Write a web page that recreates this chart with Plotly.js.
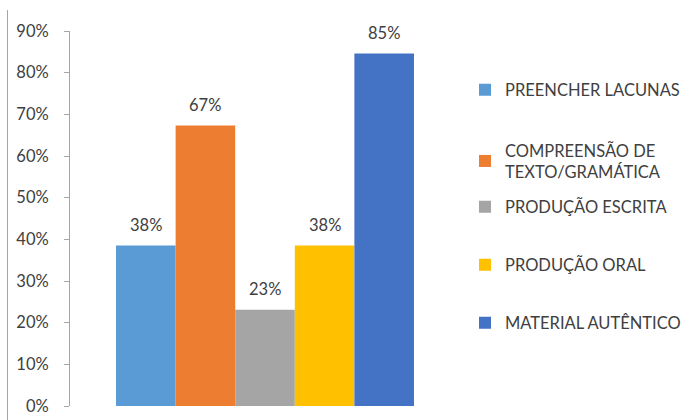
<!DOCTYPE html>
<html>
<head>
<meta charset="utf-8">
<script src="https://cdn.plot.ly/plotly-3.0.1.min.js"></script>
<style>html,body{margin:0;padding:0;background:#fff;}#chart{width:691px;height:420px;}</style>
</head>
<body>
<div id="chart"></div>
<script>
// Data
const seriesNames = ["PREENCHER LACUNAS", "COMPREENSÃO DE<br>TEXTO/GRAMÁTICA", "PRODUÇÃO ESCRITA", "PRODUÇÃO ORAL", "MATERIAL AUTÊNTICO"];
const seriesValues = [0.385, 0.673, 0.231, 0.385, 0.846];
const valueLabels = ["38%", "67%", "23%", "38%", "85%"];
const seriesColors = ["#5b9bd5", "#ed7d31", "#a5a5a5", "#ffc000", "#4472c4"];
const legendCenters = [90, 161, 207, 265, 323]; // pixel rows of legend entries

const FONT = "Lato, Liberation Sans, Arial, sans-serif";
const TXT = "#404040";
const T = 31, B = 14, L = 70, R = 231, H = 420;
const plotH = H - T - B;

const traces = seriesNames.map((name, i) => ({
  type: "bar",
  name: name,
  x: [i],
  y: [seriesValues[i]],
  width: 1,
  marker: {color: seriesColors[i]},
  legend: i === 0 ? "legend" : "legend" + (i + 1),
  hoverinfo: "none"
}));

const layout = {
  width: 691, height: 420,
  margin: {l: L, r: R, t: T, b: B, pad: 0, autoexpand: false},
  paper_bgcolor: "#ffffff",
  plot_bgcolor: "#ffffff",
  barmode: "overlay",
  font: {family: FONT, size: 16, color: TXT},
  showlegend: true,
  xaxis: {range: [-1.272, 5.272], showticklabels: false, showgrid: false, zeroline: false, showline: false, ticks: "", automargin: false},
  yaxis: {range: [0, 0.9], dtick: 0.1, tickformat: ".0%", showgrid: false, zeroline: false, automargin: false,
          showline: true, linecolor: "#a6a6a6", linewidth: 1, ticks: "outside", ticklen: 5,
          tickcolor: "#a6a6a6", ticklabelstandoff: 12, tickfont: {family: FONT, size: 16.5, color: TXT}},
  annotations: seriesValues.map((v, i) => ({
    x: i, y: v, xref: "x", yref: "y", text: valueLabels[i], showarrow: false,
    yanchor: "bottom", yshift: 9, font: {family: FONT, size: 16.5, color: TXT}
  })),
  shapes: [{type: "line", xref: "paper", yref: "paper",
            x0: (7.5 - L) / 390, x1: (7.5 - L) / 390, y0: (406 - 420) / plotH, y1: (406 - 10) / plotH,
            line: {color: "#a6a6a6", width: 1}}]
};
legendCenters.forEach((yc, i) => {
  const key = i === 0 ? "legend" : "legend" + (i + 1);
  layout[key] = {
    x: (465 - L) / 390, xanchor: "left",
    y: (406 - yc) / plotH, yanchor: "middle",
    bgcolor: "rgba(0,0,0,0)", borderwidth: 0,
    font: {family: FONT, size: 16.5, color: TXT},
    itemclick: false, itemdoubleclick: false
  };
});

Plotly.newPlot("chart", traces, layout, {displayModeBar: false, staticPlot: true});
</script>
</body>
</html>
